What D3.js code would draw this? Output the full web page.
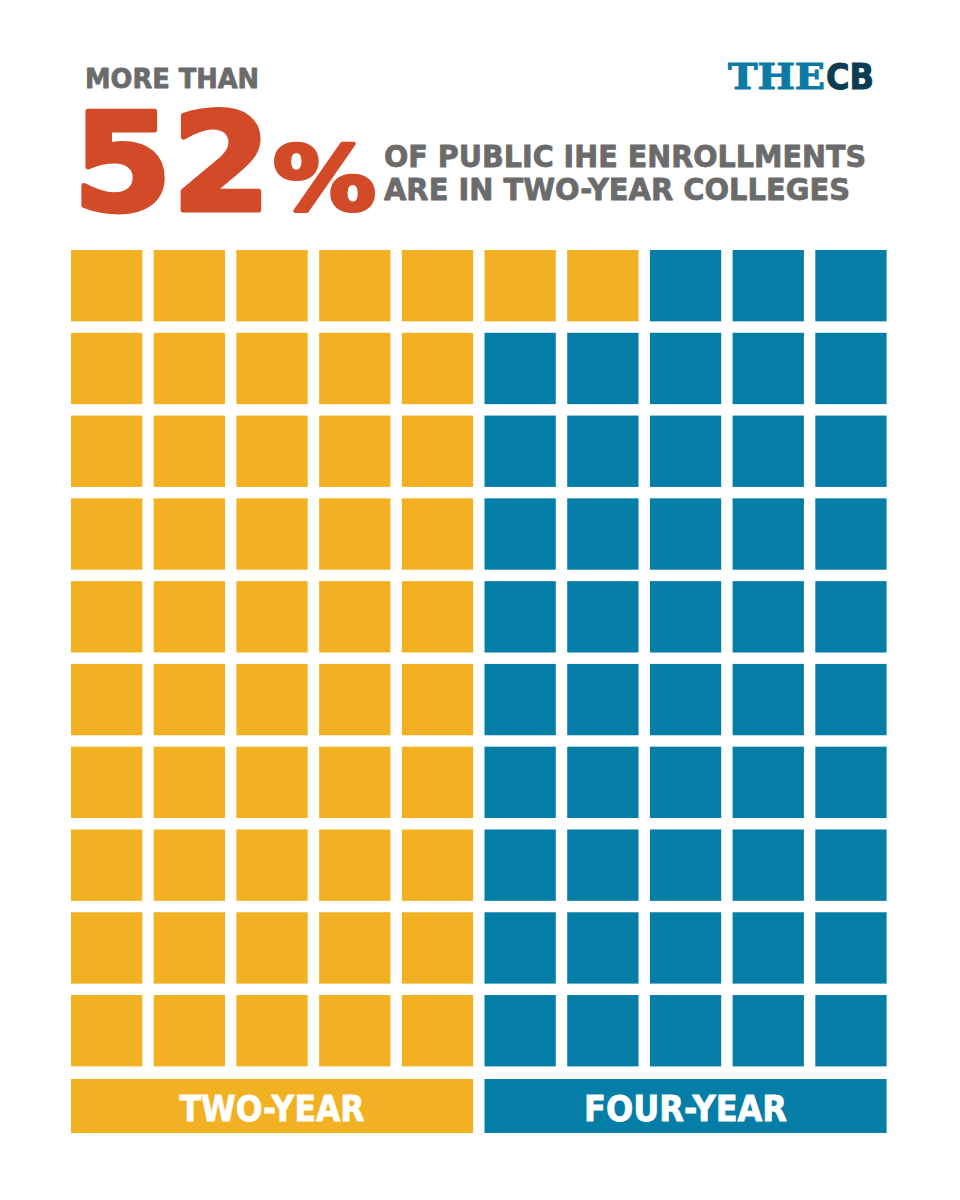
<!DOCTYPE html>
<html>
<head>
<meta charset="utf-8">
<script src="https://cdn.jsdelivr.net/npm/d3@7"></script>
<style>
  body { margin: 0; background: #fff; }
  svg { display: block; }
</style>
</head>
<body>
<div class="chart-wrapper"></div>
<script>
const colorTwo = '#f2b123';
const colorFour = '#047ea6';
const colorRed = '#d34a28';
const colorGray = '#6b6b6b';
const fontHeavy = '"DejaVu Sans", sans-serif';

// data
let categories = ['TWO-YEAR', 'FOUR-YEAR'];
let shares = [52, 48];
let gridCols = d3.range(10);
let gridRows = d3.range(10);

let width = 960;
let height = 1200;

let canvas = d3.select('.chart-wrapper').append('svg')
    .attr('width', width)
    .attr('height', height);

canvas.append('rect')
    .attr('width', width)
    .attr('height', height)
    .attr('fill', '#fff');

let x = d3.scaleBand()
    .domain(gridCols)
    .range([71, 886.6])
    .paddingInner(0.138);

let y = d3.scaleBand()
    .domain(gridRows)
    .range([250, 1066.4])
    .paddingInner(0.138);

// fill order: left half column by column, then the rest row by row
let half = gridCols.length / 2;
let cells = [];
gridCols.filter((c) => c < half).forEach((c) => {
    gridRows.forEach((r) => cells.push({ col: c, row: r }));
});
gridRows.forEach((r) => {
    gridCols.filter((c) => c >= half).forEach((c) => cells.push({ col: c, row: r }));
});
cells.forEach((cell, i) => {
    cell.group = i < shares[0] ? 0 : 1;
});

let color = d3.scaleOrdinal()
    .domain([0, 1])
    .range([colorTwo, colorFour]);

canvas.append('g')
    .attr('class', 'cells')
    .selectAll('rect')
    .data(cells)
    .enter()
    .append('rect')
    .attr('x', (d) => x(d.col))
    .attr('y', (d) => y(d.row))
    .attr('width', x.bandwidth())
    .attr('height', y.bandwidth())
    .attr('fill', (d) => color(d.group));

// category labels under each half
let labelTop = 1079;
let labelHeight = 54;
let labels = canvas.append('g')
    .attr('class', 'labels')
    .selectAll('g')
    .data(categories)
    .enter()
    .append('g');

labels.append('rect')
    .attr('x', (d, i) => x(i * half))
    .attr('y', labelTop)
    .attr('width', (d, i) => x(i * half + half - 1) + x.bandwidth() - x(i * half))
    .attr('height', labelHeight)
    .attr('fill', (d, i) => color(i));

labels.append('text')
    .attr('x', (d, i) => (x(i * half) + x(i * half + half - 1) + x.bandwidth()) / 2)
    .attr('y', 1121)
    .attr('text-anchor', 'middle')
    .attr('font-family', fontHeavy)
    .attr('font-weight', 'bold')
    .attr('font-size', 35)
    .attr('fill', '#fff')
    .attr('stroke', '#fff')
    .attr('stroke-width', 0.8)
    .attr('textLength', (d, i) => i === 0 ? 185 : 203)
    .attr('lengthAdjust', 'spacingAndGlyphs')
    .text((d) => d);

// headline
function headText(str, px, py, size, fill, len, weight) {
    return canvas.append('text')
        .attr('x', px)
        .attr('y', py)
        .attr('font-family', fontHeavy)
        .attr('font-weight', 'bold')
        .attr('font-size', size)
        .attr('fill', fill)
        .attr('stroke', fill)
        .attr('stroke-width', weight)
        .attr('stroke-linejoin', 'round')
        .attr('textLength', len)
        .attr('lengthAdjust', 'spacingAndGlyphs')
        .text(str);
}

headText('MORE THAN', 85, 88, 27, colorGray, 174, 0.8);
headText(shares[0], 73, 209.5, 136, colorRed, 198, 5);
headText('%', 273, 210, 89, colorRed, 103, 4);
headText('OF PUBLIC IHE ENROLLMENTS', 384, 167, 30, colorGray, 482, 0.8);
headText('ARE IN TWO-YEAR COLLEGES', 384, 200, 30, colorGray, 466, 0.8);

// logo
canvas.append('text')
    .attr('x', 728)
    .attr('y', 89)
    .attr('font-family', '"DejaVu Serif", serif')
    .attr('font-weight', 'bold')
    .attr('font-size', 35)
    .attr('fill', '#0b7aa5')
    .attr('stroke', '#0b7aa5')
    .attr('stroke-width', 1)
    .attr('textLength', 97)
    .attr('lengthAdjust', 'spacingAndGlyphs')
    .text('THE');

canvas.append('text')
    .attr('x', 826)
    .attr('y', 89)
    .attr('font-family', fontHeavy)
    .attr('font-weight', 'bold')
    .attr('font-size', 35)
    .attr('fill', '#0b3c52')
    .attr('stroke', '#0b3c52')
    .attr('stroke-width', 1)
    .attr('textLength', 48)
    .attr('lengthAdjust', 'spacingAndGlyphs')
    .text('CB');
</script>
</body>
</html>
